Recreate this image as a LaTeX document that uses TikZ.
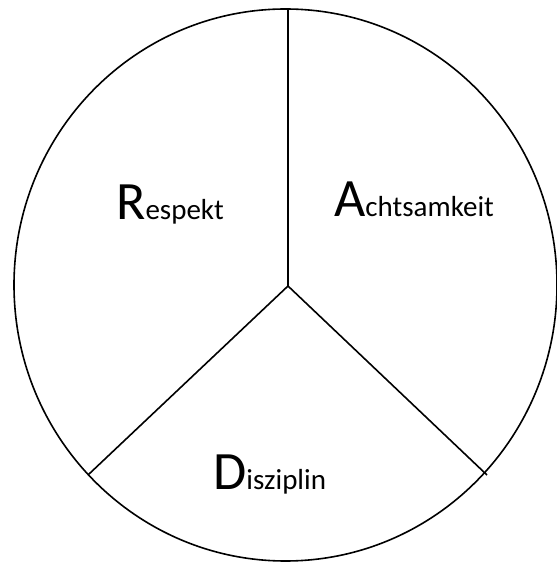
\documentclass[tikz,border=0pt]{standalone}
\usepackage{fontspec}
\setmainfont{Carlito}
\begin{document}
\begin{tikzpicture}[x=1pt,y=1pt,
  outline/.style={line width=1.6pt, black},
  big/.style={font=\fontsize{54}{54}\selectfont},
  lbl/.style={anchor=base west, inner sep=0pt}]
\useasboundingbox (0,0) rectangle (557,563);
\coordinate (c) at (288,277);
\coordinate (ec) at (285.5,278);
\coordinate (top) at (288,554);
\coordinate (bl) at (88,88);
\coordinate (br) at (487,88);
\draw[outline] (ec) ellipse [x radius=271.5, y radius=276];
\draw[outline] (c) -- (top);
\draw[outline] (c) -- (bl);
\draw[outline] (c) -- (br);
\node[lbl] (resp) at (116,343) {\fontsize{54}{54}\selectfont R\fontsize{29}{29}\selectfont espekt};
\node[lbl] (acht) at (334,346) {\fontsize{54}{54}\selectfont A\fontsize{29}{29}\selectfont chtsamkeit};
\node[lbl] (disz) at (213,73) {\fontsize{54}{54}\selectfont D\fontsize{29}{29}\selectfont isziplin};
\end{tikzpicture}
\end{document}
